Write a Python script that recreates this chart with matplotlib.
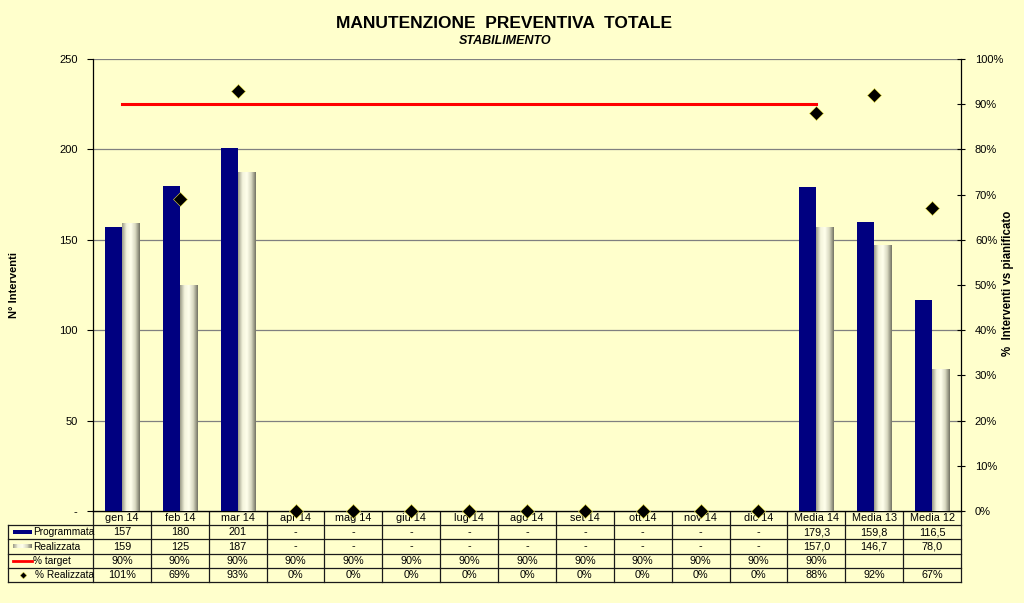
import numpy as np
import matplotlib
matplotlib.use('Agg')
import matplotlib.pyplot as plt
from matplotlib.colors import LinearSegmentedColormap
from matplotlib.ticker import FuncFormatter, MultipleLocator

plt.rcParams['font.family'] = ['Liberation Sans', 'DejaVu Sans']

# dati
mesi = ['gen 14', 'feb 14', 'mar 14', 'apr 14', 'mag 14', 'giu 14', 'lug 14', 'ago 14',
        'set 14', 'ott 14', 'nov 14', 'dic 14', 'Media 14', 'Media 13', 'Media 12']
programmata = [157, 180, 201, 0, 0, 0, 0, 0, 0, 0, 0, 0, 179.3, 159.8, 116.5]
realizzata = [159, 125, 187, 0, 0, 0, 0, 0, 0, 0, 0, 0, 157.0, 146.7, 78.0]
target = [90] * 13 + [np.nan, np.nan]
perc_realizzata = [101, 69, 93, 0, 0, 0, 0, 0, 0, 0, 0, 0, 88, 92, 67]
decimali = [0] * 12 + [1] * 3

BG = '#FFFFCC'
NAVY = '#000080'
cmap_r = LinearSegmentedColormap.from_list('real', ['#9C9C88', '#F4F4DC', '#FFFFEC', '#D8D8C0', '#747464'])
grad = np.linspace(0, 1, 64).reshape(1, -1)

W, H = 1024, 603
fig = plt.figure(figsize=(W / 100, H / 100), dpi=100, facecolor=BG)

def px(l, t, r, b):
    return [l / W, (H - b) / H, (r - l) / W, (b - t) / H]

# tabella (creata per prima, così i rombi stanno sopra)
ax_t = fig.add_axes(px(93, 511, 961, 582))
ax = fig.add_axes(px(93, 59, 961, 511))
ax2 = ax.twinx()

x = np.arange(len(mesi))
w = 0.295

ax.set_facecolor(BG)
ax.set_axisbelow(True)
ax.yaxis.grid(True, color='#808080', lw=0.9)
ax.bar(x - w / 2, programmata, w, color=NAVY, zorder=3)
bars_r = ax.bar(x + w / 2, realizzata, w, color='none', zorder=3)
for r in bars_r:
    if r.get_height() > 0:
        ax.imshow(grad, extent=[r.get_x(), r.get_x() + r.get_width(), 0, r.get_height()],
                  cmap=cmap_r, aspect='auto', zorder=3, interpolation='bilinear')
ax.set_xlim(-0.5, len(mesi) - 0.5)
ax.set_ylim(0, 250)
ax.yaxis.set_major_locator(MultipleLocator(50))
ax.yaxis.set_major_formatter(FuncFormatter(lambda v, p: '-' if v == 0 else f'{v:.0f}'))
ax.set_xticks([])
ax.tick_params(axis='y', direction='out', length=4, width=0.8, labelsize=8, pad=7)
for s in ['top', 'right']:
    ax.spines[s].set_visible(False)
ax.spines['left'].set_linewidth(0.9)
ax.spines['bottom'].set_linewidth(0.9)

# asse percentuale
pv = np.array(perc_realizzata, dtype=float)
pv_vis = np.where(pv > 100, np.nan, pv)
ax2.plot(x, target, color='#FF0000', lw=2.2, zorder=4)
ax2.plot(x, pv_vis, ls='none', marker='D', ms=7, mfc='#000000', mec='#E8E040', mew=0.4,
         clip_on=False, zorder=5)
ax2.set_ylim(0, 100)
ax2.yaxis.set_major_locator(MultipleLocator(10))
ax2.yaxis.set_major_formatter(FuncFormatter(lambda v, p: f'{v:.0f}%'))
ax2.tick_params(axis='y', direction='inout', length=6, width=0.8, labelsize=8, pad=7)
for s in ['top', 'left', 'bottom']:
    ax2.spines[s].set_visible(False)
ax2.spines['right'].set_linewidth(0.9)

fig.text(14 / W, 1 - 285 / H, 'N° Interventi', rotation=90, ha='center', va='center',
         fontsize=8, fontweight='bold')
fig.text(1008 / W, 1 - 283 / H, '%  Interventi vs pianificato', rotation=90, ha='center',
         va='center', fontsize=8.3, fontweight='bold')

fig.text(504 / W, 1 - 23 / H, 'MANUTENZIONE  PREVENTIVA  TOTALE', ha='center', va='center',
         fontsize=12.5, fontweight='bold')
fig.text(505 / W, 1 - 41 / H, 'STABILIMENTO', ha='center', va='center', fontsize=9,
         fontweight='bold', style='italic')

# tabella dati
ax_t.axis('off')
lab_l = -0.5 - 85 / 57.87
lc = dict(color='#1A1A1A', lw=0.9, clip_on=False)
ax_t.plot([-0.5, len(mesi) - 0.5], [0, 0], **lc)
for yy in range(1, 6):
    ax_t.plot([lab_l, len(mesi) - 0.5], [yy, yy], **lc)
for k in range(len(mesi) + 1):
    ax_t.plot([k - 0.5, k - 0.5], [0, 5], **lc)
ax_t.plot([lab_l, lab_l], [1, 5], **lc)

def fmt_val(v, d):
    if v == 0:
        return '-'
    return f'{v:.{d}f}'.replace('.', ',')

tk = dict(ha='center', va='center', fontsize=7.8)
for i, m in enumerate(mesi):
    ax_t.text(i, 0.5, m, **tk)
    ax_t.text(i, 1.5, fmt_val(programmata[i], decimali[i]), **tk)
    ax_t.text(i, 2.5, fmt_val(realizzata[i], decimali[i]), **tk)
    ax_t.text(i, 3.5, '' if np.isnan(target[i]) else f'{target[i]:.0f}%', **tk)
    ax_t.text(i, 4.5, f'{perc_realizzata[i]:.0f}%', **tk)

# legenda nella tabella
u = 1 / 57.87
sw_l, sw_r, tx = lab_l + 5 * u, lab_l + 24 * u, lab_l + 25 * u
ax_t.fill_between([sw_l, sw_r], 1.36, 1.64, color=NAVY, clip_on=False, lw=0)
ax_t.imshow(grad, extent=[sw_l, sw_r, 2.64, 2.36], cmap=cmap_r, aspect='auto',
            clip_on=False, interpolation='nearest')
ax_t.plot([sw_l, sw_r], [3.5, 3.5], color='#FF0000', lw=2.0, clip_on=False)
ax_t.plot([(sw_l + sw_r) / 2], [4.5], marker='D', ms=3.4, mfc='#000000', mec='#E8E040',
          mew=0.3, clip_on=False)
ax_t.set_xlim(-0.5, len(mesi) - 0.5)
ax_t.set_ylim(5, 0)
lk = dict(ha='left', va='center', fontsize=7.3)
ax_t.text(tx, 1.5, 'Programmata', **lk)
ax_t.text(tx, 2.5, 'Realizzata', **lk)
ax_t.text(tx, 3.5, '% target', **lk)
ax_t.text(tx + 2 * u, 4.5, '% Realizzata', **lk)

fig.savefig('out.png', dpi=100, facecolor=BG)
